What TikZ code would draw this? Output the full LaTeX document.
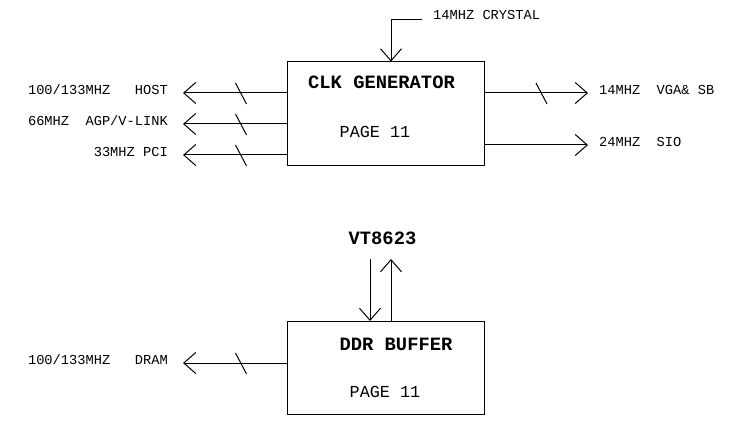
\documentclass[tikz,border=0pt]{standalone}
\usepackage{fontspec}
\setmonofont{Liberation Mono}
\usetikzlibrary{arrows.meta}

\tikzset{
  blk/.style={draw,line width=1pt,minimum width=197pt,inner sep=0pt},
  sig/.style={draw,line width=1pt,-{Straight Barb[length=12pt,width=21pt]}},
  lbl/.style={font=\ttfamily\fontsize{13.7}{14}\selectfont,inner ysep=0pt,text height=6pt,text depth=3pt},
  ttl/.style={font=\ttfamily\bfseries\fontsize{18.8}{20}\selectfont,inner sep=0pt,anchor=base},
  pg/.style={font=\ttfamily\fontsize{16.8}{18}\selectfont,inner sep=0pt,anchor=base}
}

\begin{document}
\begin{tikzpicture}[x=1pt,y=-1pt]
  \useasboundingbox (0,0) rectangle (731,422);
  % clock generator
  \node[blk,minimum height=104pt] (clk) at (385.5,114) {};
  \node[ttl] (clkt) at (381.5,89) {CLK GENERATOR};
  \node[pg] (clkp) at (375,138) {PAGE 11};
  \node[lbl,anchor=base west,inner xsep=11pt] (xtal) at (422,20) {14MHZ CRYSTAL};
  \draw[sig] (xtal.base west) -| ([xshift=5.5pt]clk.north);
  \node[lbl,anchor=east,inner xsep=15pt] (host) at (183,93) {100/133MHZ~~~HOST};
  \node[lbl,anchor=east,inner xsep=15pt] (agp) at (183,124) {66MHZ~~AGP/V-LINK};
  \node[lbl,anchor=east,inner xsep=15pt] (pci) at (183,155) {33MHZ PCI};
  \draw[sig] (clk.west |- host.east) -- (host.east);
  \draw[sig] (clk.west |- agp.east) -- (agp.east);
  \draw[sig] (clk.west |- pci.east) -- (pci.east);
  \node[lbl,anchor=west,inner xsep=11pt] (vga) at (588,93) {14MHZ~~VGA\& SB};
  \node[lbl,anchor=west,inner xsep=11pt] (sio) at (588,145) {24MHZ~~SIO};
  \draw[sig] (clk.east |- vga.west) -- (vga.west);
  \draw[sig] (clk.east |- sio.west) -- (sio.west);
  % ddr buffer
  \node[blk,minimum height=93pt] (ddr) at (385.5,368) {};
  \node[ttl] (ddrt) at (396,350) {DDR BUFFER};
  \node[pg] (ddrp) at (385,397) {PAGE 11};
  \node[ttl] (vt) at (382.5,245) {VT8623};
  \coordinate (vtin) at (370,259);
  \coordinate (vtout) at (391,259);
  \draw[sig] (vtin) -- (vtin |- ddr.north);
  \draw[sig] (vtout |- ddr.north) -- (vtout);
  \node[lbl,anchor=east,inner xsep=15pt] (dram) at (183,363) {100/133MHZ~~~DRAM};
  \draw[sig] (ddr.west |- dram.east) -- (dram.east);
  % bus marks
  \foreach \y in {93,124,155,363}
    \draw[line width=1pt] (241,\y) ++(-5.5,-10) -- ++(11,21);
  \draw[line width=1pt] (541.5,93) ++(-5.5,-10) -- ++(11,21);
\end{tikzpicture}
\end{document}
